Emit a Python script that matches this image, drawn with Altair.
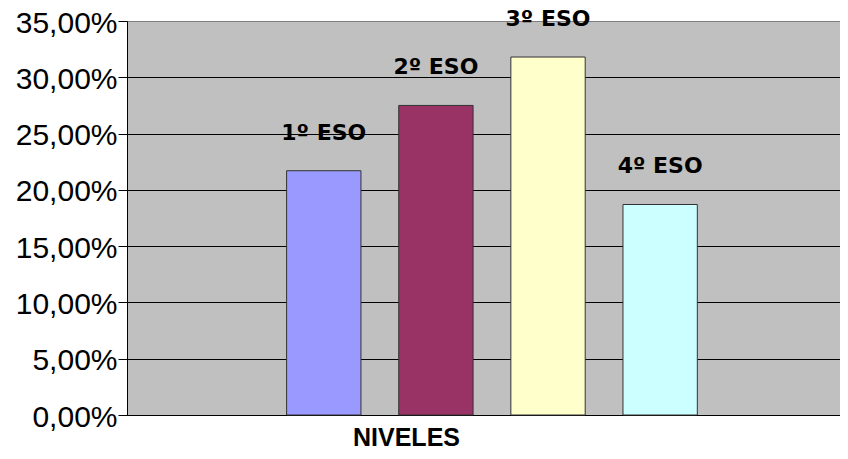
import altair as alt
import pandas as pd

niveles = ["1º ESO", "2º ESO", "3º ESO", "4º ESO"]
valores = [0.217, 0.275, 0.318, 0.187]
colores = ["#9999FF", "#993366", "#FFFFCC", "#CCFFFF"]
ticks_y = [0, 0.05, 0.10, 0.15, 0.20, 0.25, 0.30, 0.35]

df = pd.DataFrame({"grupo": [""] * 4, "nivel": niveles, "valor": valores})

x_enc = alt.X(
    "grupo:N",
    scale=alt.Scale(paddingInner=0, paddingOuter=0.368, align=0.528),
    axis=alt.Axis(
        labels=False, ticks=False, domain=True, domainColor="black",
        title="NIVELES", titleX=279, titleY=30, titleAlign="center",
        titleBaseline="alphabetic", titleFont="Liberation Sans",
        titleFontSize=25, titleFontWeight="bold", titleColor="black",
    ),
)
xoff = alt.XOffset("nivel:N", sort=niveles,
                   scale=alt.Scale(paddingInner=0.337, paddingOuter=0))
y_enc = alt.Y(
    "valor:Q",
    scale=alt.Scale(domain=[0, 0.35], nice=False),
    axis=alt.Axis(
        values=ticks_y, title=None,
        labelExpr="replace(format(datum.value, '.2%'), '.', ',')",
        labelFont="Liberation Sans", labelFontSize=30, labelColor="black",
        labelPadding=1, labelOffset=2, tickSize=9, tickColor="black",
        domainColor="black",
        grid=True,
        gridColor={"condition": {"test": "datum.value >= 0.35", "value": "#808080"}, "value": "black"},
        gridOpacity=1,
    ),
)

base = alt.Chart(df)
bars = base.mark_bar(stroke="#333333", strokeWidth=1).encode(
    x=x_enc, xOffset=xoff, y=y_enc,
    color=alt.Color("nivel:N", scale=alt.Scale(domain=niveles, range=colores), legend=None),
)
labels = base.mark_text(dy=-31, baseline="alphabetic", align="center",
                        font="DejaVu Sans", fontWeight="bold", fontSize=22,
                        color="black").encode(
    x=alt.X("grupo:N"), xOffset=alt.XOffset("nivel:N", sort=niveles),
    y=alt.Y("valor:Q"), text="nivel:N",
)

chart = alt.layer(bars, labels).properties(
    width=713, height=394,
    autosize=alt.AutoSizeParams(type="none"),
    padding={"left": 119, "top": 13, "right": 0, "bottom": 31},
    background="white",
).configure_view(fill="#C0C0C0", stroke="#808080", strokeWidth=1)

chart.save("out.html", embed_options={"renderer": "svg", "actions": False})
